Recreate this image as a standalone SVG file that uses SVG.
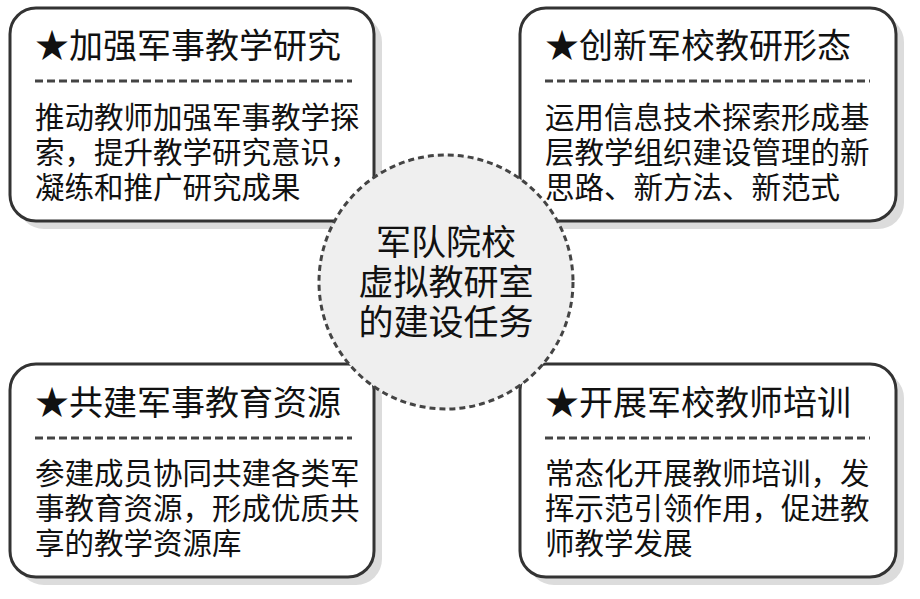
<svg xmlns="http://www.w3.org/2000/svg" width="920" height="599" viewBox="0 0 920 599">
<style>
.sh{fill:#dcdcdc}
.bx{fill:#fff;stroke:#333;stroke-width:3}
.dl{stroke:#444;stroke-width:3;stroke-dasharray:8,4}
.t{font-family:"Noto Sans CJK SC",sans-serif;font-size:34px;fill:#111}
.b{font-family:"Noto Sans CJK SC",sans-serif;font-size:29.5px;fill:#111}
.c{font-family:"Noto Sans CJK SC",sans-serif;font-size:35px;fill:#111;text-anchor:middle}
</style>
<rect width="920" height="599" fill="#fff"/>
<g id="n1">
<rect class="sh" x="18" y="16" width="364" height="213" rx="26"/>
<rect class="bx" x="10" y="8" width="364" height="213" rx="26"/>
<text class="t" x="35" y="58">★加强军事教学研究</text>
<line class="dl" x1="35" y1="81" x2="352" y2="81"/>
<text class="b" x="35" y="128">推动教师加强军事教学探</text>
<text class="b" x="35" y="163">索，提升教学研究意识，</text>
<text class="b" x="35" y="198">凝练和推广研究成果</text>
</g>
<g id="n2">
<rect class="sh" x="528" y="16" width="376" height="213" rx="26"/>
<rect class="bx" x="520" y="8" width="376" height="213" rx="26"/>
<text class="t" x="545" y="58">★创新军校教研形态</text>
<line class="dl" x1="545" y1="81" x2="870" y2="81"/>
<text class="b" x="545" y="128">运用信息技术探索形成基</text>
<text class="b" x="545" y="163">层教学组织建设管理的新</text>
<text class="b" x="545" y="198">思路、新方法、新范式</text>
</g>
<g id="n3">
<rect class="sh" x="18" y="372" width="364" height="213" rx="26"/>
<rect class="bx" x="10" y="364" width="364" height="213" rx="26"/>
<text class="t" x="35" y="415">★共建军事教育资源</text>
<line class="dl" x1="35" y1="438" x2="352" y2="438"/>
<text class="b" x="35" y="484">参建成员协同共建各类军</text>
<text class="b" x="35" y="519">事教育资源，形成优质共</text>
<text class="b" x="35" y="554">享的教学资源库</text>
</g>
<g id="n4">
<rect class="sh" x="528" y="372" width="376" height="213" rx="26"/>
<rect class="bx" x="520" y="364" width="376" height="213" rx="26"/>
<text class="t" x="545" y="415">★开展军校教师培训</text>
<line class="dl" x1="545" y1="438" x2="870" y2="438"/>
<text class="b" x="545" y="484">常态化开展教师培训，发</text>
<text class="b" x="545" y="519">挥示范引领作用，促进教</text>
<text class="b" x="545" y="554">师教学发展</text>
</g>
<g id="connectors"></g>
<g id="center">
<circle cx="446" cy="282" r="127" fill="#efefef" stroke="#444" stroke-width="3" stroke-dasharray="6,4"/>
<text class="c" x="446" y="255">军队院校</text>
<text class="c" x="446" y="295">虚拟教研室</text>
<text class="c" x="446" y="335">的建设任务</text>
</g>
</svg>
